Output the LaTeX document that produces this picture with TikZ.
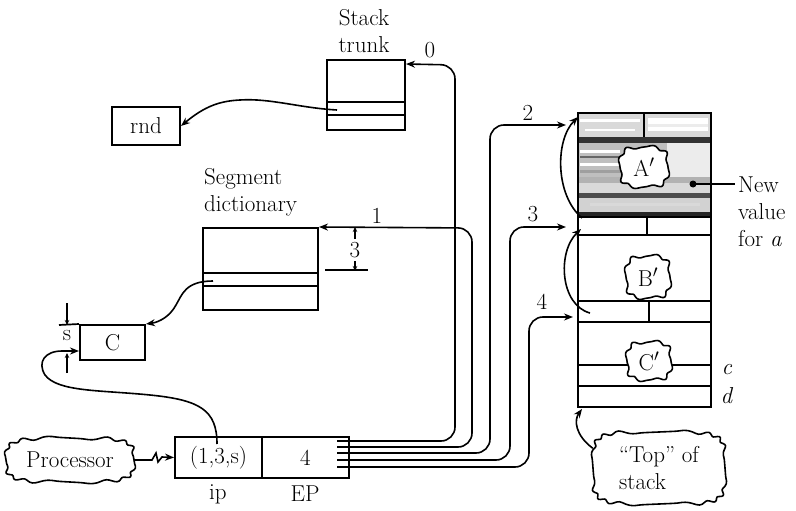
\documentclass[tikz,border=0pt]{standalone}
\usetikzlibrary{arrows.meta,calc}
\newcommand{\wavyblob}[6]{%
  \draw[line width=1.6pt,fill=white] plot[smooth cycle,samples=120,domain=1.5:358.5,variable=\t]
   ({#1+#3*cos(\t)*abs(cos(\t))^(#6-1)+1.7*cos(\t)*sin(#5*\t)},
    {#2+#4*sin(\t)*abs(sin(\t))^(#6-1)+1.7*sin(\t)*sin(#5*\t)});}
\begin{document}
\begin{tikzpicture}[x=1pt,y=-1pt,
  box/.style={draw,line width=2pt,inner sep=0pt,fill=white},
  lbl/.style={font=\fontsize{23}{27}\selectfont,inner sep=0pt},
  conn/.style={line width=1.6pt,-{Stealth[length=9pt,width=7pt]}},
  small/.style={line width=1.3pt,-{Stealth[length=5pt,width=4.5pt]}},
  wire/.style={line width=1.6pt,rounded corners=14pt,-{Stealth[length=9pt,width=7pt]}},
  cloudtext/.style={inner sep=0pt,font=\fontsize{23}{27}\selectfont},
  thin/.style={line width=1.7pt}
]
\useasboundingbox (0,0) rectangle (796,511);

% ---------- Stack trunk ----------
\node[lbl,align=center] (trunklbl) at (364,31) {Stack\\trunk};
\node[box,minimum width=78pt,minimum height=70pt] (trunk) at (366,95) {};
\draw[thin] (327,102) -- (405,102) (327,115) -- (405,115);
\node[box,lbl,minimum width=68pt,minimum height=38pt] (rnd) at (146,126) {rnd};
\coordinate (trs) at (337,110);
\draw[conn] (trs) .. controls (300,108) and (270,98) .. (240,100)
   .. controls (220,101) and (205,106) .. (rnd.east);

% ---------- Segment dictionary ----------
\node[lbl,align=left,anchor=north west] (seglbl) at (204,168) {Segment\\dictionary};
\node[box,minimum width=115pt,minimum height=82pt] (seg) at (260.5,269) {};
\draw[thin] (203,273) -- (318,273) (203,286) -- (318,286);
\node[lbl] (three) at (355,250) {3};
\draw[small] (355,239) -- (seg.north east -| three);
\draw[small] (355,261) -- (355,271);
\draw[thin] (325,270) -- (368,270);

% ---------- C ----------
\node[box,lbl,minimum width=65pt,minimum height=35pt] (C) at (112.5,342.5) {C};
\coordinate (sgs) at (213,281);
\draw[conn] (sgs) .. controls (185,281) and (182,295) .. (176,305)
   .. controls (170,316) and (160,322) .. (C.north east);
\node[lbl] (s) at (67,336) {s};
\draw[small] (67,303) -- (67,325);
\draw[thin] (59,325) -- (C.north west);
\draw[small] (67,373) -- (67,353);

% ---------- ip / EP ----------
\node[box,lbl,minimum width=87pt,minimum height=41pt] (ip) at (218.5,457.5) {(1,3,s)};
\node[box,lbl,minimum width=87pt,minimum height=41pt] (ep) at (305.5,457.5) {4};
\node[lbl] (iplbl) at (218,494) {ip};
\node[lbl] (eplbl) at (305,494) {EP};

\wavyblob{70}{460}{64}{22}{14}{0.5}
\node[cloudtext,minimum width=128pt,minimum height=44pt] (proc) at (70,460) {Processor};
\draw[conn] (proc.east) -- (152,460) -- (156,453) -- (158,462) -- (162,457) -- (ip.west);

\coordinate (ips) at (217,444);
\draw[conn] (ips) .. controls (217,410) and (200,400) .. (150,395)
   .. controls (100,390) and (58,392) .. (45,375)
   .. controls (37,362) and (45,351) .. (62,351) -- ([yshift=-8.5pt]C.west);

% ---------- wires from EP ----------
\foreach \i/\y in {0/441,1/447,2/453,3/460,4/467}{
  \coordinate (e\i) at (337,\y);
}
\coordinate (a2) at (566,125);
\coordinate (a3) at (566,227);
\coordinate (a4) at (573,317);
\draw[wire] (e0) -- (455,441) -- (455,65) -- ([yshift=-5pt]trunk.north east);
\draw[wire] (e1) -- (472,447) -- (472,228) -- (seg.north east);
\draw[wire] (e2) -- (490,453) -- (490,125) -- (a2);
\draw[wire] (e3) -- (510,460) -- (510,227) -- (a3);
\draw[wire] (e4) -- (529,467) -- (529,317) -- (a4);
\node[lbl] (l0) at (430,50) {0};
\node[lbl] (l1) at (377,216) {1};
\node[lbl] (l2) at (528,113) {2};
\node[lbl] (l3) at (533,214) {3};
\node[lbl] (l4) at (542,302) {4};

% ---------- stack ----------
\fill[gray!30] (578,113) rectangle (711,137);
\fill[white] (580,119) rectangle (640,122);
\fill[white] (648,118) rectangle (708,131);
\fill[gray!15] (648,124) rectangle (708,127);
\fill[white] (585,129) rectangle (635,131);
\fill[black!80] (578,137) rectangle (711,143);
\fill[gray!50] (578,143) rectangle (667,177);
\fill[white!85!gray] (667,143) rectangle (711,177);
\fill[white] (580,150) rectangle (620,153);
\fill[black!60] (580,156) rectangle (625,158);
\fill[white] (580,163) rectangle (622,166);
\fill[gray!75] (580,170) rectangle (625,173);
\fill[gray!60] (578,177) rectangle (711,183);
\fill[gray!30] (578,183) rectangle (711,193);
\fill[black!70] (578,193) rectangle (711,198);
\fill[gray!35] (578,198) rectangle (711,212);
\fill[white!70!gray] (590,203) rectangle (700,206);
\fill[black!85] (578,212) rectangle (711,217);
\node[draw,line width=2.2pt,minimum width=133pt,minimum height=294pt,inner sep=0pt] (stack) at (644.5,260) {};
\draw[thin] (578,217) -- (711,217) (578,235) -- (711,235) (578,301) -- (711,301)
   (578,322) -- (711,322) (578,365) -- (711,365) (578,386) -- (711,386);
\draw[thin] (644,113) -- (644,137) (647,217) -- (647,235) (649,301) -- (649,322);
\wavyblob{644}{167}{24}{20}{8}{0.6}
\node[cloudtext] (Ap) at (644,167) {A$'$};
\wavyblob{648}{277}{22}{21}{8}{0.6}
\node[cloudtext] (Bp) at (648,277) {B$'$};
\wavyblob{649}{361}{22}{19}{8}{0.6}
\node[cloudtext] (Cp) at (649,361) {C$'$};
\node[lbl] (cl) at (727,370) {\textit{c}};
\node[lbl] (dl) at (727,396) {\textit{d}};

\coordinate (k1) at (582,218);
\coordinate (k1t) at (578,117);
\draw[conn] (k1) .. controls (555,195) and (555,140) .. (k1t);
\coordinate (k2) at (590,313);
\coordinate (k2t) at (581,229);
\draw[conn] (k2) .. controls (560,305) and (557,252) .. (k2t);

\fill (693,184) circle (3.5pt);
\coordinate (nv) at (693,184);
\node[lbl,align=left,anchor=west] (newval) at (738,212) {New\\value\\for \textit{a}};
\draw[thin] (nv) -- (735,184);

\wavyblob{659}{468}{66}{36}{16}{0.4}
\node[cloudtext,align=left,minimum width=132pt,minimum height=73pt] (top) at (659,468) {``Top'' of\\stack};
\coordinate (stb) at (582,409);
\draw[conn] ([yshift=-17pt]top.north west) .. controls (575,435) and (574,420) .. (stb);
\end{tikzpicture}
\end{document}
